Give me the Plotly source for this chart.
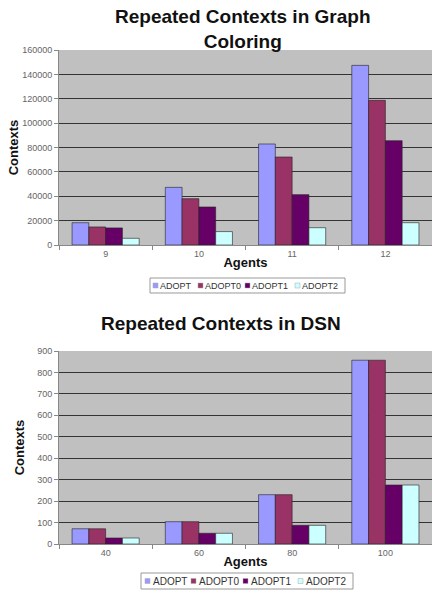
import plotly.graph_objects as go

series = ["ADOPT", "ADOPT0", "ADOPT1", "ADOPT2"]
colors = ["#9999FF", "#993366", "#660066", "#CCFFFF"]

gc_agents = ["9", "10", "11", "12"]
gc_values = {
    "ADOPT": [18300, 47300, 82900, 147400],
    "ADOPT0": [14800, 38000, 72200, 118700],
    "ADOPT1": [14000, 31200, 41300, 85600],
    "ADOPT2": [5500, 11000, 14200, 18300],
}

dsn_agents = ["40", "60", "80", "100"]
dsn_values = {
    "ADOPT": [71, 104, 230, 857],
    "ADOPT0": [71, 104, 230, 857],
    "ADOPT1": [28, 50, 87, 275],
    "ADOPT2": [28, 50, 87, 275],
}

FONT = "Liberation Sans, Arial, sans-serif"
W, H = 432, 593

fig = go.Figure()
for s, c in zip(series, colors):
    fig.add_trace(go.Bar(x=gc_agents, y=gc_values[s], name=s,
                         marker=dict(color=c, line=dict(color="#222", width=0.6)),
                         xaxis="x", yaxis="y", showlegend=False))
for s, c in zip(series, colors):
    fig.add_trace(go.Bar(x=dsn_agents, y=dsn_values[s], name=s,
                         marker=dict(color=c, line=dict(color="#222", width=0.6)),
                         xaxis="x2", yaxis="y2", showlegend=False))

xl = 59 / W


def px_x(x):
    return x / W


def px_y(y):
    return 1 - y / H


def ydom(top, bot):
    return [px_y(bot), px_y(top)]


axis_common = dict(showline=True, linecolor="#888", linewidth=1, ticks="outside", ticklen=4,
                   tickcolor="#888", automargin=False,
                   tickfont=dict(family=FONT, size=9, color="#666"))
title_font = dict(family=FONT, size=13, color="#111")

fig.update_layout(
    width=W, height=H, margin=dict(l=0, r=0, t=0, b=0, autoexpand=False),
    paper_bgcolor="white", plot_bgcolor="#C0C0C0",
    barmode="group", bargap=0.28, bargroupgap=0,
    font=dict(family=FONT),
    xaxis=dict(domain=[xl, 1.0], anchor="y", type="category", tickson="boundaries", showgrid=False,
               title=dict(text="<b>Agents</b>", font=title_font, standoff=0), **axis_common),
    yaxis=dict(domain=ydom(50, 245), anchor="x", range=[0, 160000], dtick=20000, tickformat="d",
               showgrid=True, gridcolor="#333", gridwidth=1, zeroline=False,
               title=dict(text="<b>Contexts</b>", font=title_font, standoff=0), **axis_common),
    xaxis2=dict(domain=[xl, 1.0], anchor="y2", type="category", tickson="boundaries", showgrid=False,
                title=dict(text="<b>Agents</b>", font=title_font, standoff=0), **axis_common),
    yaxis2=dict(domain=ydom(351, 544), anchor="x2", range=[0, 900], dtick=100, tickformat="d",
                showgrid=True, gridcolor="#333", gridwidth=1, zeroline=False,
                title=dict(text="<b>Contexts</b>", font=title_font, standoff=9), **axis_common),
)

annotations = [
    dict(text="<b>Repeated Contexts in Graph<br>Coloring</b>", x=px_x(243), y=px_y(4), xref="paper",
         yref="paper", xanchor="center", yanchor="top", showarrow=False,
         font=dict(family=FONT, size=19, color="#111")),
    dict(text="<b>Repeated Contexts in DSN</b>", x=px_x(221), y=px_y(311), xref="paper", yref="paper",
         xanchor="center", yanchor="top", showarrow=False, font=dict(family=FONT, size=19, color="#111")),
]
shapes = []

# manual compact legends (Excel style)
legend_specs = [
    (150, 345, 278, 293, [153, 198, 245, 295], [158, 203, 250, 300], 9),
    (141, 353, 573, 589, [145, 191, 243, 298], [151, 197, 249, 304], 10),
]
for (bl, br, bt, bb, sqx, txx, fs) in legend_specs:
    shapes.append(dict(type="rect", xref="paper", yref="paper", x0=px_x(bl), x1=px_x(br),
                       y0=px_y(bb), y1=px_y(bt), line=dict(color="#999", width=1), fillcolor="white"))
    yc = (bt + bb) / 2
    for s, c, sx, tx in zip(series, colors, sqx, txx):
        shapes.append(dict(type="rect", xref="paper", yref="paper", x0=px_x(sx), x1=px_x(sx + 5),
                           y0=px_y(yc + 2.5), y1=px_y(yc - 2.5), line=dict(color="#aaa", width=0.5),
                           fillcolor=c))
        annotations.append(dict(text=s, x=px_x(tx), y=px_y(yc), xref="paper", yref="paper",
                                xanchor="left", yanchor="middle", showarrow=False,
                                font=dict(family=FONT, size=fs, color="#333")))

fig.update_layout(annotations=annotations, shapes=shapes)

fig.write_html("out.html", config={"displayModeBar": False},
               post_script="document.body.style.margin='0';document.body.style.overflow='hidden';")
